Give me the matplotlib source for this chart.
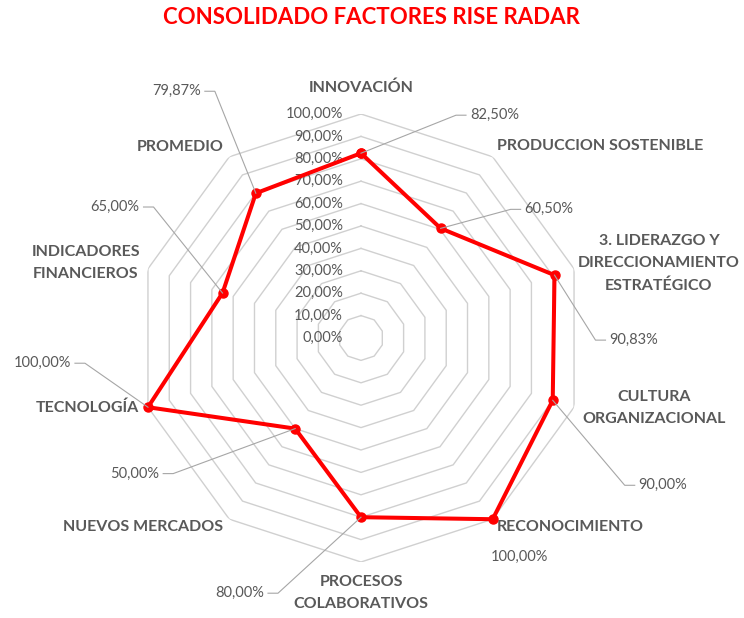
import matplotlib
matplotlib.use("Agg")
import matplotlib.pyplot as plt
from matplotlib.lines import Line2D
import numpy as np

plt.rcParams["font.family"] = ["Lato", "DejaVu Sans"]

# ---- data ----
categories = [
    "INNOVACIÓN",
    "PRODUCCION SOSTENIBLE",
    "3. LIDERAZGO Y\nDIRECCIONAMIENTO\nESTRATÉGICO",
    "CULTURA\nORGANIZACIONAL",
    "RECONOCIMIENTO",
    "PROCESOS\nCOLABORATIVOS",
    "NUEVOS MERCADOS",
    "TECNOLOGÍA",
    "INDICADORES\nFINANCIEROS",
    "PROMEDIO",
]
values = [82.50, 60.50, 90.83, 90.00, 100.00, 80.00, 50.00, 100.00, 65.00, 79.87]
value_labels = ["82,50%", "60,50%", "90,83%", "90,00%", "100,00%",
                "80,00%", "50,00%", "100,00%", "65,00%", "79,87%"]
ring_levels = [0, 10, 20, 30, 40, 50, 60, 70, 80, 90, 100]
ring_labels = ["0,00%", "10,00%", "20,00%", "30,00%", "40,00%", "50,00%",
               "60,00%", "70,00%", "80,00%", "90,00%", "100,00%"]

# ---- layout (pixels) ----
GREY_TXT = "#595959"
GRID = "#d0d0d0"
LEADER = "#a6a6a6"
RED = "#ff0000"

# category label offsets from the 100% vertex, and alignment
cat_pos = [
    ((0, 26), "center"), ((4, 11), "left"), ((4, 5), "left"), ((8, -1), "left"),
    ((4, -8), "left"), ((0, -31), "center"), ((-6, -8), "right"),
    ((-9, -1), "right"), ((-8, 6), "right"), ((-6, 10), "right"),
]
# data label leaders: slant end offset from the point, then horizontal elbow
leader_pos = [(95, 38), (70, 19), (41, -65), (72, -85), None,
              (-83, -76), (-122, -45), (-63, 44), (-69, 86), (-41, 102)]
recon_text_offset = (27, -38)

W, H = 744, 618
fig = plt.figure(figsize=(W / 100, H / 100), dpi=100)
cx, cy, R = 361, 280, 224
ax = fig.add_axes([(cx - R) / W, (cy - R) / H, 2 * R / W, 2 * R / H], projection="polar")
ax.set_theta_zero_location("N")
ax.set_theta_direction(-1)
ax.set_ylim(0, 1)
ax.grid(False)
ax.set_xticks([])
ax.set_yticks([])
ax.spines["polar"].set_visible(False)
ax.patch.set_visible(False)

n = len(categories)
angles = np.arange(n) * 2 * np.pi / n
closed = np.append(angles, angles[0])

for lvl in ring_levels[1:]:
    ax.plot(closed, [lvl / 100] * (n + 1), color=GRID, lw=1.0, zorder=1)

for lvl, lab in zip(ring_levels, ring_labels):
    ax.annotate(lab, xy=(0, lvl / 100), xytext=(-18, 0), textcoords="offset pixels",
                ha="right", va="center", fontsize=10.5, color=GREY_TXT, zorder=2)

r = np.array(values) / 100
ax.plot(np.append(angles, angles[0]), np.append(r, r[0]), color=RED, lw=2.9,
        marker="o", ms=6.5, zorder=4, clip_on=False)

for i, lab in enumerate(categories):
    (dx, dy), ha = cat_pos[i]
    ax.annotate(lab, xy=(angles[i], 1.0), xytext=(dx, dy), textcoords="offset pixels",
                ha=ha, va="center", multialignment="center", fontsize=11.5,
                fontweight="bold", color=GREY_TXT, linespacing=1.75,
                annotation_clip=False)

# data labels with leader lines
for i, lab in enumerate(value_labels):
    px, py = ax.transData.transform((angles[i], r[i]))
    if leader_pos[i] is None:
        ax.annotate(lab, xy=(angles[i], r[i]), xytext=recon_text_offset,
                    textcoords="offset pixels", ha="center", va="center",
                    fontsize=10.5, color=GREY_TXT, annotation_clip=False)
        continue
    sx, sy = leader_pos[i]
    sgn = 1 if sx > 0 else -1
    xs = [px, px + sx, px + sx + sgn * 10]
    ys = [py, py + sy, py + sy]
    fig.add_artist(Line2D(xs, ys, color=LEADER, lw=0.8, transform=None, zorder=3))
    fig.text((xs[-1] + sgn * 4) / W, ys[-1] / H, lab, ha="left" if sgn > 0 else "right",
             va="center", fontsize=10.5, color=GREY_TXT)

fig.text(371 / W, 1 - 17 / H, "CONSOLIDADO FACTORES RISE RADAR", ha="center",
         va="center", fontsize=16, fontweight="bold", color=RED)

fig.savefig("out.png", dpi=100)
